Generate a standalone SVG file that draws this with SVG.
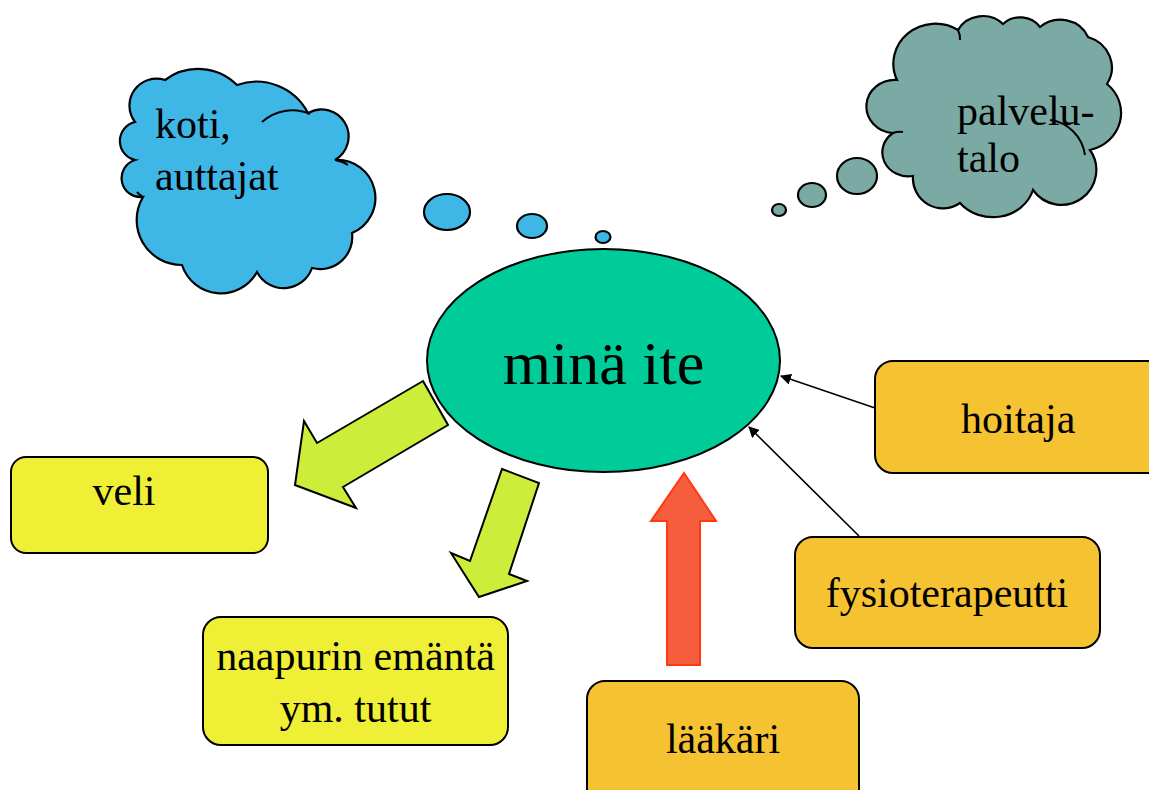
<svg xmlns="http://www.w3.org/2000/svg" width="1149" height="790" viewBox="0 0 1149 790">
<defs>
<style>
text{font-family:"Liberation Serif","Times New Roman",serif;fill:#000;font-size:42px}
.c{text-anchor:middle}
.box{stroke:#000;stroke-width:2}
.yb{fill:#EFEF35}
.ob{fill:#F5C232}
.cl{stroke:#000;stroke-width:2.2}
.blue{fill:#3EB6E6}
.teal{fill:#7BAAA4}
.inner{fill:none;stroke:#000;stroke-width:2}
.ga{fill:#CCEE3A;stroke:#000;stroke-width:2}
.conn{stroke:#000;stroke-width:1.6;fill:none}
</style>
<marker id="ah" viewBox="0 0 10 10" refX="9" refY="5" markerWidth="11" markerHeight="11" markerUnits="userSpaceOnUse" orient="auto">
<path d="M0,0 L10,5 L0,10 z" fill="#000"/>
</marker>
</defs>

<g id="cloud-koti">
<path class="cl blue" d="M135,122 A27,27 0 0 1 165,80 A55,55 0 0 1 237,85 A58,58 0 0 1 308,113 A26,26 0 0 1 335,160 A38,38 0 0 1 352,233 A32,32 0 0 1 312,268 A30,30 0 0 1 257,272 A41,41 0 0 1 182,265 A45,45 0 0 1 143,197 A19,19 0 0 1 135,160 A19.5,19.5 0 0 1 135,122 z"/>
<path class="inner" d="M262,122 A45,45 0 0 1 310,114"/>
<path class="inner" d="M335,160 A30,30 0 0 1 348,165"/>
<path class="inner" d="M143,197 A20,20 0 0 1 137,192"/>
<path class="inner" d="M135,160 A20,20 0 0 1 130,158"/>
<ellipse class="cl blue" cx="447" cy="212" rx="23" ry="18"/>
<ellipse class="cl blue" cx="532" cy="226" rx="15" ry="12"/>
<ellipse class="cl blue" cx="603" cy="237" rx="7.5" ry="6"/>
<text x="155" y="138">koti,</text>
<text x="155" y="190">auttajat</text>
</g>

<g id="cloud-palvelutalo">
<path class="cl teal" d="M897,80 A42,40 0 0 1 958,30 A28,26 0 0 1 1003,24 A24,22 0 0 1 1040,27 A30,28 0 0 1 1088,37 A34,32 0 0 1 1107,84 A40,38 0 0 1 1090,150 A32,32 0 0 1 1033,190 A42,38 0 0 1 960,203 A30,30 0 0 1 913,176 A26,24 0 0 1 893,133 A28,26 0 0 1 897,80 z"/>
<path class="inner" d="M1050,120 A40,42 0 0 1 1085,155"/>
<path class="inner" d="M893,133 A20,20 0 0 1 903,132"/>
<path class="inner" d="M958,30 A20,20 0 0 1 960,40"/>
<ellipse class="cl teal" cx="857" cy="176" rx="20" ry="18"/>
<ellipse class="cl teal" cx="812" cy="195" rx="14" ry="12"/>
<ellipse class="cl teal" cx="779" cy="210" rx="7" ry="6"/>
<text x="957" y="125">palvelu-</text>
<text x="957" y="172">talo</text>
</g>

<g id="connectors">
<polygon class="ga" points="423,381 448,425 343,487 356,508 295,485 304,421 317,443"/>
<polygon class="ga" points="502,469 539,483 509,574 527,581 479,597 451,553 470,561"/>
<polygon points="684,473 716,521 700,521 700,665 667,665 667,521 651,521" fill="#F55D3D" stroke="#FF3A10" stroke-width="2"/>
<line class="conn" x1="875" y1="408" x2="781" y2="376" marker-end="url(#ah)"/>
<line class="conn" x1="859" y1="536" x2="749" y2="427" marker-end="url(#ah)"/>
</g>

<g id="node-mina">
<ellipse cx="603.5" cy="360.5" rx="176.5" ry="111.5" fill="#00CC99" stroke="#000" stroke-width="2"/>
<text class="c" x="603.5" y="384" style="font-size:62px">minä ite</text>
</g>

<g id="node-veli">
<rect class="box yb" x="11" y="457" width="257" height="96" rx="15"/>
<text class="c" x="124" y="505">veli</text>
</g>

<g id="node-naapurin">
<rect class="box yb" x="203" y="617" width="305" height="128" rx="18"/>
<text class="c" x="355.5" y="670">naapurin emäntä</text>
<text class="c" x="355.5" y="722">ym. tutut</text>
</g>

<g id="node-laakari">
<rect class="box ob" x="587" y="681" width="272" height="130" rx="18"/>
<text class="c" x="723" y="753">lääkäri</text>
</g>

<g id="node-hoitaja">
<rect class="box ob" x="875" y="361" width="290" height="112" rx="18"/>
<text x="961" y="433">hoitaja</text>
</g>

<g id="node-fysio">
<rect class="box ob" x="795" y="537" width="305" height="111" rx="18"/>
<text class="c" x="947" y="607">fysioterapeutti</text>
</g>
</svg>
